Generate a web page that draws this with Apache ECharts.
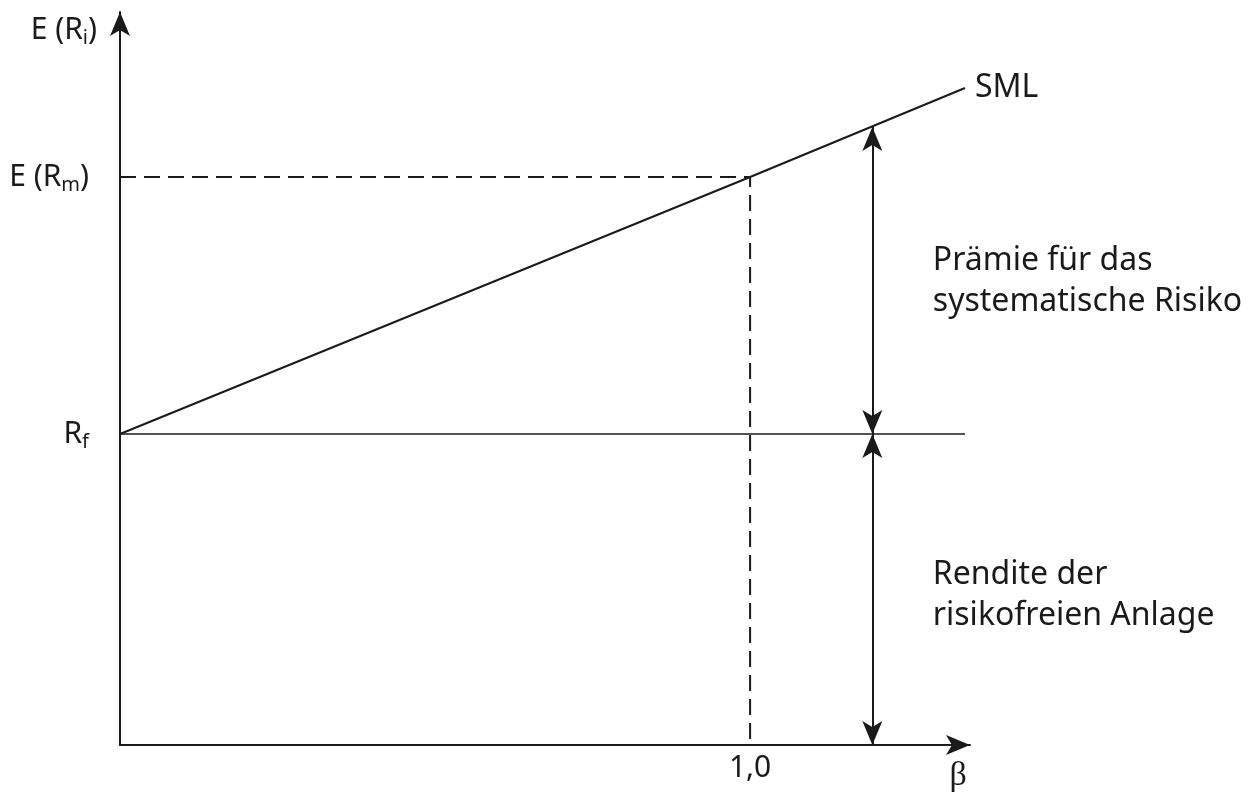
<!DOCTYPE html>
<html>
<head>
<meta charset="utf-8">
<script src="https://cdn.jsdelivr.net/npm/echarts@6/dist/echarts.min.js"></script>
<style>
  html, body { margin: 0; padding: 0; background: #fff; }
  #chart { width: 1249px; height: 796px; }
</style>
</head>
<body>
<div id="chart"></div>
<script>
// values (y in arbitrary return units, x = beta)
var rf = 3.11;
var erm = 5.68;
var smlBeta = [0, 1.0, 1.341];
var smlReturn = [3.11, 5.68, 6.57];
var rfLineBeta = [0, 1.341];
var marketBeta = 1.0;
var arrowBeta = 1.194;
var arrowTop = 6.18;
var xMax = 1.349;
var yMax = 7.33;
var yLabelValues = [3.11, 5.68, 7.15];
var xLabelValues = [1.0, 1.33];
var premiumText = 'Prämie für das\nsystematische Risiko';
var premiumPos = [1.29, 4.64];
var riskfreeText = 'Rendite der\nrisikofreien Anlage';
var riskfreePos = [1.29, 1.50];

var font = '"Noto Sans", "Open Sans", sans-serif';
var ink = '#1a1a1a';

var chart = echarts.init(document.getElementById('chart'));

function pairs(xs, ys) {
    var out = [];
    for (var i = 0; i < xs.length; i++) out.push([xs[i], ys[i]]);
    return out;
}

chart.setOption({
    animation: false,
    backgroundColor: '#fff',
    grid: { left: 120, right: 279, top: 12, bottom: 51 },
    xAxis: {
        type: 'value',
        min: 0,
        max: xMax,
        splitLine: { show: false },
        axisTick: { show: false },
        axisLine: {
            lineStyle: { color: ink, width: 2 },
            symbol: ['none', 'arrow'],
            symbolSize: [15, 24]
        },
        axisLabel: {
            customValues: xLabelValues,
            margin: 8,
            formatter: function (v) {
                return v === 1 ? '{n|1,0}' : '{b|β}';
            },
            rich: {
                n: { fontSize: 30, fontFamily: font, color: ink },
                b: { fontSize: 34, fontFamily: '"Liberation Serif", "DejaVu Serif", serif', color: ink, padding: [6, 0, 0, 0] }
            }
        }
    },
    yAxis: {
        type: 'value',
        min: 0,
        max: yMax,
        splitLine: { show: false },
        axisTick: { show: false },
        axisLine: {
            lineStyle: { color: ink, width: 2 },
            symbol: ['none', 'arrow'],
            symbolSize: [15, 24]
        },
        axisLabel: {
            customValues: yLabelValues,
            margin: 23,
            formatter: function (v) {
                if (v === rf) return '{n|R}{sp|f}';
                if (v === erm) return '{n|E (R}{s|m}{np|)}';
                return '{n|E (R}{s|i}{n|)}';
            },
            rich: {
                n: { fontSize: 30, fontFamily: font, color: ink, lineHeight: 38 },
                np: { fontSize: 30, fontFamily: font, color: ink, lineHeight: 38, padding: [0, 8, 0, 0] },
                s: { fontSize: 20, fontFamily: font, color: ink, lineHeight: 20, padding: [16, 0, 0, 0] },
                sp: { fontSize: 20, fontFamily: font, color: ink, lineHeight: 20, padding: [16, 8, 0, 0] }
            }
        }
    },
    series: [
        {
            name: 'SML',
            type: 'line',
            data: pairs(smlBeta, smlReturn),
            showSymbol: false,
            clip: false,
            silent: true,
            lineStyle: { color: ink, width: 2 },
            endLabel: {
                show: true,
                formatter: 'SML',
                fontSize: 32,
                fontFamily: font,
                color: ink,
                distance: 10
            },
            markLine: {
                symbol: ['arrow', 'arrow'],
                symbolSize: [15, 24],
                silent: true,
                label: { show: false },
                lineStyle: { color: ink, width: 2, type: 'solid' },
                emphasis: { disabled: true },
                data: [
                    [{ coord: [arrowBeta, arrowTop] }, { coord: [arrowBeta, rf] }],
                    [{ coord: [arrowBeta, rf] }, { coord: [arrowBeta, 0] }]
                ]
            },
            markPoint: {
                symbolSize: 0,
                silent: true,
                label: {
                    show: true,
                    position: 'right',
                    distance: 0,
                    align: 'left',
                    fontSize: 32,
                    lineHeight: 41,
                    fontFamily: font,
                    color: ink,
                    formatter: function (p) { return p.name; }
                },
                data: [
                    { name: premiumText, coord: premiumPos },
                    { name: riskfreeText, coord: riskfreePos }
                ]
            }
        },
        {
            name: 'Rf',
            type: 'line',
            data: pairs(rfLineBeta, [rf, rf]),
            showSymbol: false,
            clip: false,
            silent: true,
            lineStyle: { color: ink, width: 1.5 }
        },
        {
            name: 'market',
            type: 'line',
            data: [[0, erm], [marketBeta, erm], [marketBeta, 0]],
            showSymbol: false,
            silent: true,
            lineStyle: { color: ink, width: 2, type: [16, 8] }
        }
    ]
});
</script>
</body>
</html>
